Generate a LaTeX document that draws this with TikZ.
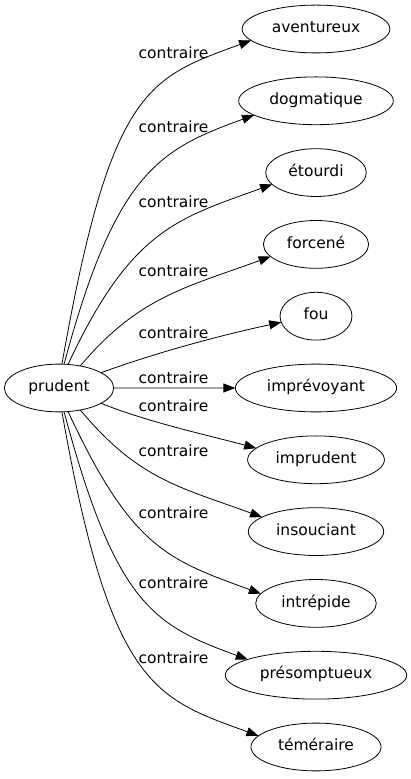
\documentclass[tikz,border=0pt]{standalone}
\usepackage{fontspec}
\setmainfont{DejaVu Sans}
\usetikzlibrary{arrows.meta,positioning,shapes.geometric}
\tikzset{
  mot/.style={draw, ellipse, line width=0.8pt, outer sep=0pt, inner xsep=8pt, inner ysep=2pt, minimum width=72pt, minimum height=47.8pt, text height=11pt, text depth=3.5pt, font=\fontsize{15.5}{18}\selectfont},
  rel/.style={inner sep=0pt, font=\fontsize{15.5}{18}\selectfont},
  fl/.style={-{Triangle[length=12pt, width=9pt]}, line width=0.8pt},
}

\begin{document}
\begin{tikzpicture}[x=1pt, y=1pt, node distance=24pt]
  \useasboundingbox (0,0) rectangle (410,779);
  \node[mot] (prudent) at (59,391) {prudent};
  \node[mot] (aventureux) at (316,750) {aventureux};
  \node[mot, below=of aventureux] (dogmatique) {dogmatique};
  \node[mot, below=of dogmatique] (etourdi) {étourdi};
  \node[mot, below=of etourdi] (force) {forcené};
  \node[mot, below=of force] (fou) {fou};
  \node[mot, below=of fou] (imprevoyant) {imprévoyant};
  \node[mot, below=of imprevoyant] (imprudent) {imprudent};
  \node[mot, below=of imprudent] (insouciant) {insouciant};
  \node[mot, below=of insouciant] (intrepide) {intrépide};
  \node[mot, below=of intrepide] (presomptueux) {présomptueux};
  \node[mot, below=of presomptueux] (temeraire) {téméraire};
  % arcs vers les contraires
  \draw[fl] (prudent.83) .. controls +(80:280) and +(200:110) .. (aventureux.190);
  \draw[fl] (prudent.78) .. controls +(75:200) and +(200:100) .. (dogmatique.193);
  \draw[fl] (prudent.69) .. controls +(65:150) and +(200:100) .. (etourdi.195);
  \draw[fl] (prudent.46) .. controls +(50:90) and +(200:90) .. (force.195);
  \draw[fl] (prudent.20) .. controls +(20:60) and +(192:60) .. (fou.190);
  \draw[fl] (prudent) -- (imprevoyant);
  \draw[fl] (prudent.-20) .. controls +(-22:50) and +(165:50) .. (imprudent.169);
  \draw[fl] (prudent.-46) .. controls +(-50:90) and +(160:90) .. (insouciant.165);
  \draw[fl] (prudent.-69) .. controls +(-65:150) and +(160:100) .. (intrepide.170);
  \draw[fl] (prudent.-78) .. controls +(-75:200) and +(160:100) .. (presomptueux.167);
  \draw[fl] (prudent.-83) .. controls +(-80:280) and +(160:110) .. (temeraire.169);
  % etiquettes
  \node[rel] (r1) at (173.5,726) {contraire};
  \node[rel] (r2) at (173.5,652) {contraire};
  \node[rel] (r3) at (173.5,577) {contraire};
  \node[rel] (r4) at (173.5,508) {contraire};
  \node[rel] (r5) at (173.5,446) {contraire};
  \node[rel] (r6) at (173.5,401) {contraire};
  \node[rel] (r7) at (173.5,373) {contraire};
  \node[rel] (r8) at (173.5,328) {contraire};
  \node[rel] (r9) at (173.5,266) {contraire};
  \node[rel] (r10) at (173.5,196) {contraire};
  \node[rel] (r11) at (173.5,121) {contraire};
\end{tikzpicture}
\end{document}
